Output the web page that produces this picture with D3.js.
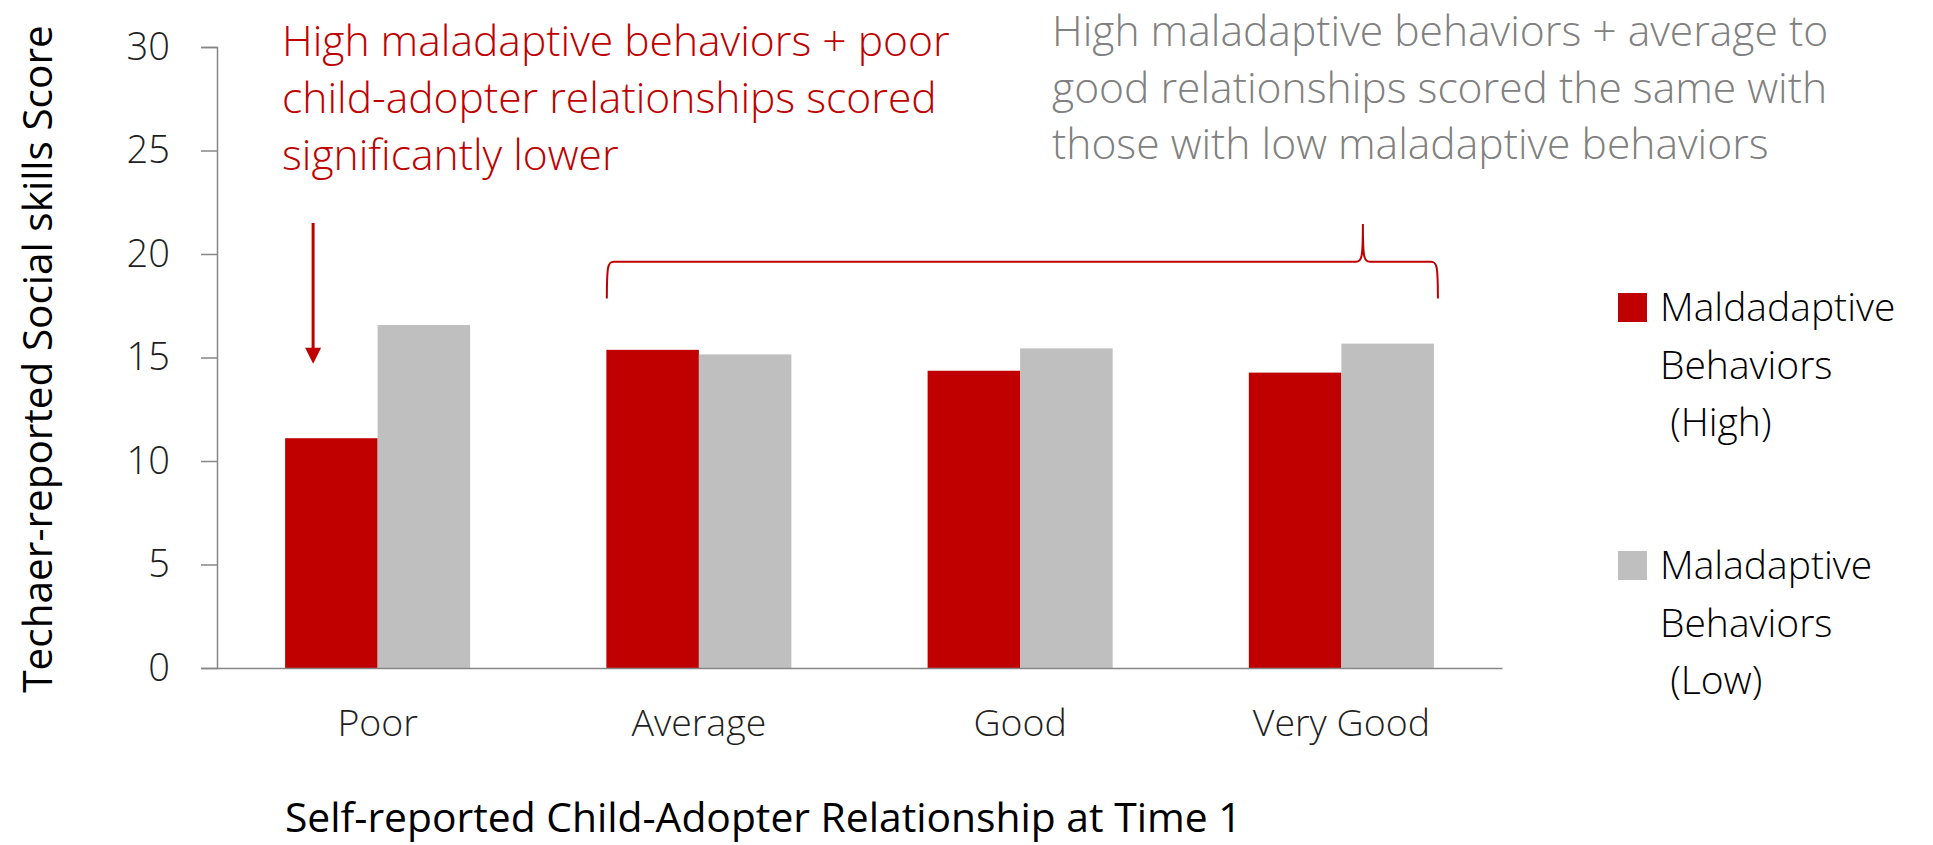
<!DOCTYPE html>
<html>
<head>
<meta charset="utf-8">
<script src="https://cdn.jsdelivr.net/npm/d3@7"></script>
<style>
  html, body { margin: 0; padding: 0; background: #fff; }
  svg { display: block; font-family: "Open Sans", "Noto Sans", sans-serif; }
</style>
</head>
<body>
<svg id="chart" width="1933" height="845"></svg>
<script>
// ---- data ----
const categories = ["Poor", "Average", "Good", "Very Good"];
const seriesNames = ["Maldadaptive Behaviors (High)", "Maladaptive Behaviors (Low)"];
const highValues = [11.1, 15.37, 14.36, 14.27];
const lowValues = [16.57, 15.15, 15.44, 15.67];
const yTicks = [0, 5, 10, 15, 20, 25, 30];
const legendLines = [["Maldadaptive", "Behaviors", " (High)"], ["Maladaptive", "Behaviors", " (Low)"]];
const redNote = ["High maladaptive behaviors + poor", "child-adopter relationships scored", "significantly lower"];
const grayNote = ["High maladaptive behaviors + average to", "good relationships scored the same with", "those with low maladaptive behaviors"];
const yTitle = "Techaer-reported Social skills Score";
const xTitle = "Self-reported Child-Adopter Relationship at Time 1";
// annotation anchors in data units
const arrowFrom = 21.5, arrowTo = 14.7;
const braceTop = 21.45, braceMid = 19.63, braceBottom = 17.85;

const RED = "#C00000", GRAY = "#BFBFBF", AXIS = "#868686", TEXT = "#1f1f1f";

const svg = d3.select("#chart");
const mLeft = 217, mRight = 1502, mTop = 47, mBottom = 668;

const x = d3.scaleBand().domain(categories).range([mLeft, mRight]).paddingInner(0.424).paddingOuter(0.212);
const xs = d3.scaleBand().domain([0, 1]).range([0, x.bandwidth()]);
const y = d3.scaleLinear().domain([0, 30]).range([mBottom, mTop]);

// bars
const rows = categories.map((c, i) => ({ c, vals: [highValues[i], lowValues[i]] }));
const g = svg.append("g");
rows.forEach(r => {
  r.vals.forEach((v, j) => {
    g.append("rect")
      .attr("x", x(r.c) + xs(j))
      .attr("y", y(v))
      .attr("width", xs.bandwidth())
      .attr("height", y(0) - y(v))
      .attr("fill", j === 0 ? RED : GRAY);
  });
});

// y axis
const yAxis = svg.append("g").attr("transform", `translate(${mLeft},0)`)
  .call(d3.axisLeft(y).tickValues(yTicks).tickSize(16).tickPadding(31).tickSizeOuter(16));
yAxis.select(".domain").attr("stroke", AXIS).attr("stroke-width", 1.5);
yAxis.selectAll(".tick line").attr("stroke", AXIS).attr("stroke-width", 1.5);
yAxis.selectAll(".tick text").attr("font-size", 38).attr("fill", TEXT)
  .attr("font-family", "'Open Sans', sans-serif").attr("font-weight", 300);

// x axis
const xAxis = svg.append("g").attr("transform", `translate(0,${mBottom})`)
  .call(d3.axisBottom(x).tickSize(0).tickPadding(0).tickSizeOuter(0));
xAxis.select(".domain").attr("stroke", AXIS).attr("stroke-width", 1.5);
xAxis.selectAll(".tick text").attr("font-size", 37.5).attr("fill", TEXT)
  .attr("font-family", "'Open Sans', sans-serif").attr("font-weight", 300)
  .attr("dy", null).attr("y", 68);

// axis titles
svg.append("text").attr("transform", `translate(52,359) rotate(-90)`)
  .attr("text-anchor", "middle").attr("font-size", 40.5).attr("fill", "#000")
  .text(yTitle);
svg.append("text").attr("x", 285).attr("y", 832).attr("font-size", 40.8).attr("fill", "#000")
  .text(xTitle);

// red annotation text
svg.append("g").selectAll("text").data(redNote).join("text")
  .attr("x", 282).attr("y", (d, i) => 56 + i * 57)
  .attr("font-size", 42.6).attr("fill", RED).attr("font-weight", 300)
  .text(d => d);
// gray annotation text
svg.append("g").selectAll("text").data(grayNote).join("text")
  .attr("x", 1052).attr("y", (d, i) => 46 + i * 56.5)
  .attr("font-size", 42.6).attr("fill", "#808080").attr("font-weight", 300)
  .text(d => d);

// arrow
const ax = x("Poor") + 28;
svg.append("line").attr("x1", ax).attr("x2", ax)
  .attr("y1", y(arrowFrom)).attr("y2", y(arrowTo) - 14)
  .attr("stroke", RED).attr("stroke-width", 3);
svg.append("path").attr("d", `M${ax - 8},${y(arrowTo) - 16} L${ax + 8},${y(arrowTo) - 16} L${ax},${y(arrowTo)} Z`).attr("fill", RED);

// brace
const bL = x("Average") + 0.5, bR = x("Very Good") + x.bandwidth() + 4;
const bP = bR - 75;
const yb = y(braceBottom), ym = y(braceMid), yt = y(braceTop);
const bracePath = `M${bL},${yb} C${bL},${ym + 4} ${bL + 1},${ym} ${bL + 7},${ym}
  L${bP - 7},${ym} C${bP - 1},${ym} ${bP},${ym - 4} ${bP},${yt}
  C${bP},${ym - 4} ${bP + 1},${ym} ${bP + 7},${ym}
  L${bR - 7},${ym} C${bR - 1},${ym} ${bR},${ym + 4} ${bR},${yb}`;
svg.append("path").attr("d", bracePath).attr("fill", "none").attr("stroke", RED).attr("stroke-width", 2);

// legend
const legX = 1618, legY = [293, 551];
[RED, GRAY].forEach((col, i) => {
  svg.append("rect").attr("x", legX).attr("y", legY[i]).attr("width", 29).attr("height", 29).attr("fill", col);
  svg.append("g").selectAll("text").data(legendLines[i]).join("text")
    .attr("x", legX + 42).attr("y", (d, k) => legY[i] + 28 + k * 57.5)
    .attr("xml:space", "preserve").style("white-space", "pre")
    .attr("font-size", 39).attr("fill", "#000").attr("font-weight", 300)
    .text(d => d);
});
</script>
</body>
</html>
